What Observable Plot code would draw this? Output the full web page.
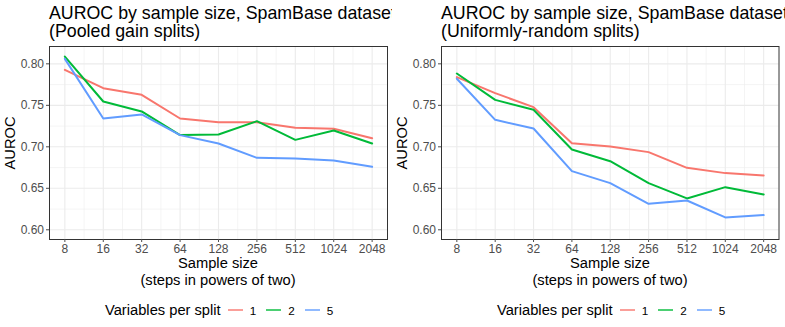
<!DOCTYPE html>
<html>
<head>
<meta charset="utf-8">
<script src="https://cdn.jsdelivr.net/npm/d3@7"></script>
<script src="https://cdn.jsdelivr.net/npm/@observablehq/plot@0.6"></script>
<style>
  html, body { margin: 0; padding: 0; background: #fff; }
  body { width: 785px; height: 327px; overflow: hidden; font-family: "Liberation Sans", Arial, Helvetica, sans-serif; }
  #wrap { display: flex; width: 785px; height: 327px; }
  .panel { position: relative; height: 327px; overflow: hidden; }
  .panel svg { position: absolute; left: 0; top: 40px; background: transparent; }
  .title { position: absolute; left: 49px; font-size: 17.8px; line-height: 18px; height: 18px; white-space: nowrap; color: #000; }
  .xtitle { position: absolute; left: 49px; width: 338px; text-align: center; font-size: 14.7px; line-height: 17px; height: 17px; color: #000; }
  .legend { position: absolute; top: 301px; left: 105px; display: flex; align-items: center; height: 18px; white-space: nowrap; color: #000; }
  .legend .ltitle { font-size: 14.7px; margin-right: 7px; }
  .legend .key { display: inline-block; width: 15px; height: 2px; margin-right: 7px; }
  .legend .lab { font-size: 11.7px; margin-right: 10px; }
</style>
</head>
<body>
<div id="wrap"></div>
<script>
// ---- data ----
const sampleSizes = [8, 16, 32, 64, 128, 256, 512, 1024, 2048];
const variableLevels = ["1", "2", "5"];
const seriesColors = ["#F8766D", "#00BA38", "#619CFF"];

const panelTitles = [
  ["AUROC by sample size, SpamBase dataset", "(Pooled gain splits)"],
  ["AUROC by sample size, SpamBase dataset", "(Uniformly-random splits)"]
];
const xTitleLines = ["Sample size", "(steps in powers of two)"];
const yTitle = "AUROC";
const legendTitle = "Variables per split";

// Pooled gain splits
const pooled_v1 = [0.7928, 0.7707, 0.7627, 0.7341, 0.7297, 0.7297, 0.7229, 0.7217, 0.7104];
const pooled_v2 = [0.8088, 0.7546, 0.7426, 0.7141, 0.7149, 0.7309, 0.7084, 0.7197, 0.7040];
const pooled_v5 = [0.8060, 0.7341, 0.7390, 0.7141, 0.7040, 0.6867, 0.6859, 0.6835, 0.6759];

// Uniformly-random splits
const uniform_v1 = [0.7840, 0.7647, 0.7478, 0.7044, 0.7004, 0.6936, 0.6747, 0.6683, 0.6655];
const uniform_v2 = [0.7884, 0.7566, 0.7446, 0.6968, 0.6827, 0.6562, 0.6378, 0.6514, 0.6426];
const uniform_v5 = [0.7820, 0.7325, 0.7221, 0.6707, 0.6562, 0.6313, 0.6353, 0.6149, 0.6177];

const yTicks = [0.60, 0.65, 0.70, 0.75, 0.80];
const yMinor = [0.625, 0.675, 0.725, 0.775];
const xMinor = [3.5, 4.5, 5.5, 6.5, 7.5, 8.5, 9.5, 10.5].map(e => Math.pow(2, e));

function longData(arrs) {
  const out = [];
  arrs.forEach((vals, i) => vals.forEach((v, j) => out.push({size: sampleSizes[j], auroc: v, vars: variableLevels[i]})));
  return out;
}
const panels = [
  {title: panelTitles[0], data: longData([pooled_v1, pooled_v2, pooled_v5]), width: 392, mr: 5},
  {title: panelTitles[1], data: longData([uniform_v1, uniform_v2, uniform_v5]), width: 393, mr: 6.5}
];

const wrap = document.getElementById("wrap");
panels.forEach(p => {
  const div = document.createElement("div");
  div.className = "panel";
  div.style.width = p.width + "px";

  const svg = Plot.plot({
    width: p.width,
    height: 220,
    marginTop: 6,
    marginBottom: 21,
    marginLeft: 49,
    marginRight: p.mr,
    style: {fontFamily: "Liberation Sans, Arial, sans-serif", background: "transparent"},
    x: {type: "log", base: 2, domain: [Math.pow(2, 2.6), Math.pow(2, 11.4)]},
    y: {domain: [0.5883, 0.8209]},
    color: {domain: variableLevels, range: seriesColors},
    marks: [
      Plot.gridX(xMinor, {stroke: "#EBEBEB", strokeOpacity: 1, strokeWidth: 0.55}),
      Plot.gridY(yMinor, {stroke: "#EBEBEB", strokeOpacity: 1, strokeWidth: 0.55}),
      Plot.gridX(sampleSizes, {stroke: "#EBEBEB", strokeOpacity: 1, strokeWidth: 1.1}),
      Plot.gridY(yTicks, {stroke: "#EBEBEB", strokeOpacity: 1, strokeWidth: 1.1}),
      Plot.line(p.data, {x: "size", y: "auroc", z: "vars", stroke: "vars", strokeWidth: 2}),
      Plot.frame({stroke: "#333333", strokeWidth: 1}),
      Plot.axisX(sampleSizes, {tickFormat: d => String(d), tickSize: 3, tickPadding: 1.5, fontSize: 12, color: "#4D4D4D", label: null}),
      Plot.axisY(yTicks, {tickFormat: d3.format(".2f"), tickSize: 3, tickPadding: 2.5, fontSize: 12, color: "#4D4D4D", label: null}),
      Plot.text([yTitle], {text: d => d, frameAnchor: "left", dx: -39.5, rotate: -90, textAnchor: "middle", lineAnchor: "middle", fontSize: 14.7, fill: "#000"})
    ]
  });
  div.appendChild(svg);

  p.title.forEach((line, i) => {
    const t = document.createElement("div");
    t.className = "title";
    t.style.top = (3.5 + i * 18) + "px";
    t.textContent = line;
    div.appendChild(t);
  });

  xTitleLines.forEach((line, i) => {
    const xt = document.createElement("div");
    xt.className = "xtitle";
    xt.style.top = (254.5 + i * 17) + "px";
    xt.textContent = line;
    div.appendChild(xt);
  });

  const lg = document.createElement("div");
  lg.className = "legend";
  let html = '<span class="ltitle">' + legendTitle + '</span>';
  variableLevels.forEach((v, i) => {
    html += '<span class="key" style="background:' + seriesColors[i] + ';opacity:0.7"></span><span class="lab">' + v + '</span>';
  });
  lg.innerHTML = html;
  div.appendChild(lg);

  wrap.appendChild(div);
});
</script>
</body>
</html>
